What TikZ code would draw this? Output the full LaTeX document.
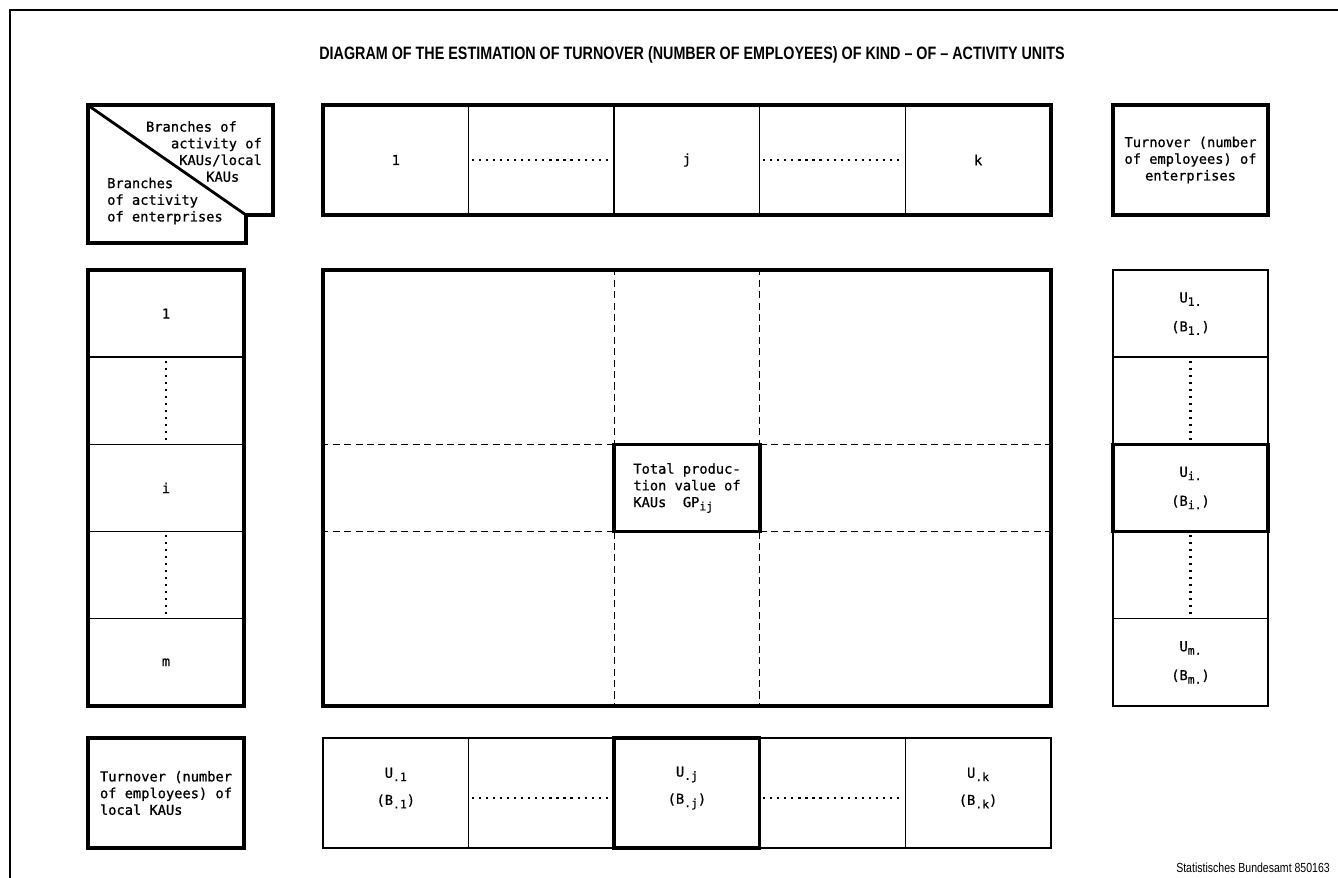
\documentclass[tikz,border=0pt]{standalone}
\usepackage{fontspec}
\setmainfont{Liberation Sans}
\newfontfamily\cellfont[FakeBold=0.8]{DejaVu Sans Mono}
\newfontfamily\headfont[FakeStretch=0.8]{Liberation Sans}
\usetikzlibrary{positioning}

\newcommand{\lowidx}[1]{\raisebox{-0.45ex}{\fontsize{6.5}{6.5}\selectfont #1}}

\tikzset{
  frame/.style={line width=2pt},
  cell/.style={draw, line width=0.8pt, inner sep=0pt, outer sep=0pt, align=center},
  colcell/.style={cell, minimum width=2.912cm, minimum height=2.2cm},
  rowcell/.style={cell, minimum width=3.12cm, minimum height=1.744cm},
  dotline/.style={line width=1.2pt, dash pattern=on 1.2pt off 2.8pt, shorten <=2pt, shorten >=2pt},
  gridline/.style={line width=0.8pt, dash pattern=on 4pt off 2.5pt}
}

\begin{document}
\begin{tikzpicture}[x=0.02cm, y=-0.02cm,
  every node/.style={font=\cellfont\fontsize{7.8}{9.5}\selectfont}]
  \useasboundingbox (0,0) rectangle (1338,878);

  % Frame and title
  \draw[line width=0.8pt] (10,878) -- (10,10) -- (1338,10);
  \node[font=\headfont\bfseries\fontsize{10.2}{11}\selectfont] (title) at (692,55)
    {DIAGRAM OF THE ESTIMATION OF TURNOVER (NUMBER OF EMPLOYEES) OF KIND – OF – ACTIVITY UNITS};

  % Corner box
  \draw[frame] (88,105) -- (273,105) -- (273,215) -- (246,215) -- (246,243) -- (88,243) -- cycle;
  \draw[line width=1.6pt] (89,106) -- (246,215);
  \node[align=right, anchor=north east] (kauhead) at (268,115)
    {Branches of\hspace*{0.5cm}\\activity of\hspace*{0.3cm}\\KAUs/local\\KAUs\hspace*{0.45cm}};
  \node[align=left, anchor=west] (enthead) at (101,201) {Branches\\of activity\\of enterprises};

  % Top row: branches of KAUs
  \node[colcell] (t1) at (395.8,160) {1};
  \node[colcell, right=0pt of t1] (t2) {};
  \node[colcell, right=0pt of t2] (t3) {j};
  \node[colcell, right=0pt of t3] (t4) {};
  \node[colcell, right=0pt of t4] (t5) {k};
  \draw[frame] (t1.north west) rectangle (t5.south east);
  \draw[dotline] (t2.west) -- (t2.east);
  \draw[dotline] (t4.west) -- (t4.east);

  % Enterprise turnover heading
  \node[draw, frame, minimum width=3.1cm, minimum height=2.2cm, inner sep=0pt, align=center] (enttot) at (1190.5,160)
    {Turnover (number\\of employees) of\\enterprises};

  % Left column: branches of enterprises
  \node[rowcell] (l1) at (166,313.6) {1};
  \node[rowcell, below=0pt of l1] (l2) {};
  \node[rowcell, below=0pt of l2] (l3) {i};
  \node[rowcell, below=0pt of l3] (l4) {};
  \node[rowcell, below=0pt of l4] (l5) {m};
  \draw[frame] (l1.north west) rectangle (l5.south east);
  \draw[dotline] (l2.north) -- (l2.south);
  \draw[dotline] (l4.north) -- (l4.south);

  % Main grid
  \node[draw, frame, minimum width=14.56cm, minimum height=8.72cm, inner sep=0pt] (grid) at (687,488) {};
  \node[cell, frame, minimum width=2.912cm, minimum height=1.744cm, align=left] (gp) at (687,488)
    {Total produc-\\tion value of\\KAUs\ \ GP\lowidx{ij}};
  \draw[gridline] (gp.north west |- grid.north) -- (gp.north west);
  \draw[gridline] (gp.south west) -- (gp.south west |- grid.south);
  \draw[gridline] (gp.north east |- grid.north) -- (gp.north east);
  \draw[gridline] (gp.south east) -- (gp.south east |- grid.south);
  \draw[gridline] (grid.west |- gp.north west) -- (gp.north west);
  \draw[gridline] (gp.north east) -- (grid.east |- gp.north east);
  \draw[gridline] (grid.west |- gp.south west) -- (gp.south west);
  \draw[gridline] (gp.south east) -- (grid.east |- gp.south east);

  % Right column: turnover of enterprises
  \node[rowcell, minimum width=3.1cm] (r1) at (1190.5,313.6) {U\lowidx{1.}\\[7pt](B\lowidx{1.})};
  \node[rowcell, minimum width=3.1cm, below=0pt of r1] (r2) {};
  \node[rowcell, minimum width=3.1cm, below=0pt of r2, frame] (r3) {U\lowidx{i.}\\[7pt](B\lowidx{i.})};
  \node[rowcell, minimum width=3.1cm, below=0pt of r3] (r4) {};
  \node[rowcell, minimum width=3.1cm, below=0pt of r4] (r5) {U\lowidx{m.}\\[7pt](B\lowidx{m.})};
  \draw[dotline] (r2.north) -- (r2.south);
  \draw[dotline] (r4.north) -- (r4.south);

  % Bottom row: turnover of local KAUs
  \node[draw, frame, minimum width=3.12cm, minimum height=2.2cm, inner sep=0pt, align=left] (kautot) at (166,793)
    {Turnover (number\\of employees) of\\local KAUs};
  \node[colcell] (b1) at (395.8,793) {};
  \node[colcell, right=0pt of b1] (b2) {};
  \node[colcell, right=0pt of b2, frame] (b3) {};
  \node[colcell, right=0pt of b3] (b4) {};
  \node[colcell, right=0pt of b4] (b5) {};
  \draw[line width=1.2pt] (b1.north west) rectangle (b5.south east);
  \node[align=center] (u1) at ([yshift=0.1cm]b1.center) {U\lowidx{.1}\\[6pt](B\lowidx{.1})};
  \node[align=center] (uj) at ([yshift=0.1cm]b3.center) {U\lowidx{.j}\\[6pt](B\lowidx{.j})};
  \node[align=center] (uk) at ([yshift=0.1cm]b5.center) {U\lowidx{.k}\\[6pt](B\lowidx{.k})};
  \draw[dotline] ([yshift=-0.1cm]b2.west) -- ([yshift=-0.1cm]b2.east);
  \draw[dotline] ([yshift=-0.1cm]b4.west) -- ([yshift=-0.1cm]b4.east);

  % Source
  \node[font=\headfont\fontsize{7.5}{8}\selectfont, anchor=east] (source) at (1336,868) {Statistisches Bundesamt 850163};
\end{tikzpicture}
\end{document}
